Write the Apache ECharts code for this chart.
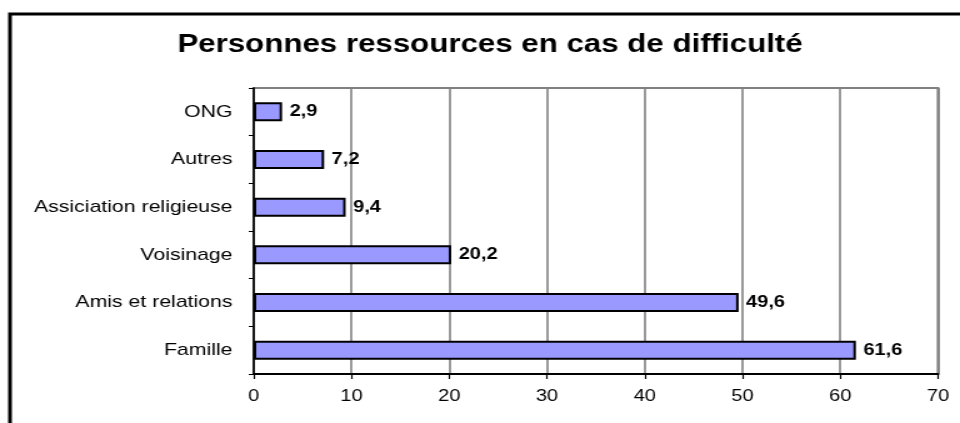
<!DOCTYPE html>
<html>
<head>
<meta charset="utf-8">
<script src="https://cdn.jsdelivr.net/npm/echarts@6/dist/echarts.min.js"></script>
<style>
  html, body { margin: 0; padding: 0; background: #fff; overflow: hidden; }
  /* the reference is a horizontally stretched picture, so draw narrow and stretch */
  #chart { width: 768px; height: 423px; transform: scaleX(1.25); transform-origin: 0 0; }
</style>
</head>
<body>
<div id="chart"></div>
<script>
const categories = ["Famille", "Amis et relations", "Voisinage", "Assiciation religieuse", "Autres", "ONG"];
const values = [61.6, 49.6, 20.2, 9.4, 7.2, 2.9];
const titleText = "Personnes ressources en cas de difficulté";

const chart = echarts.init(document.getElementById("chart"));
const font = "'Liberation Sans', Arial, sans-serif";

chart.setOption({
  animation: false,
  title: {
    text: titleText,
    left: 387,
    textAlign: "center",
    top: 28,
    textStyle: { fontFamily: font, fontSize: 25, fontWeight: "bold", color: "#000" }
  },
  graphic: [
    {
      type: "rect",
      shape: { x: 8, y: 14, width: 900, height: 500 },
      style: { fill: "none", stroke: "#000", lineWidth: 3 },
      z: 100
    }
  ],
  grid: { left: 203, top: 88, right: 17.6, bottom: 49, show: true, borderColor: "#808080", borderWidth: 2 },
  xAxis: {
    type: "value",
    min: 0,
    max: 70,
    interval: 10,
    axisLine: { show: true, lineStyle: { color: "#000", width: 2 } },
    axisTick: { show: true, length: 5, lineStyle: { color: "#000", width: 1.2 } },
    axisLabel: { fontFamily: font, fontSize: 16, color: "#000", margin: 15 },
    splitLine: { show: true, lineStyle: { color: "#808080", width: 1.6 } }
  },
  yAxis: {
    type: "category",
    data: categories,
    axisLine: { show: true, lineStyle: { color: "#000", width: 1.6 } },
    axisTick: { show: true, length: 4, lineStyle: { color: "#000" } },
    axisLabel: { fontFamily: font, fontSize: 17, color: "#000", margin: 17 },
    splitLine: { show: false }
  },
  series: [
    {
      type: "bar",
      data: values,
      barWidth: 19,
      itemStyle: { color: "#9999ff", borderColor: "#000", borderWidth: 2 },
      label: {
        show: true,
        position: "right",
        distance: 6,
        fontFamily: font,
        fontSize: 16,
        fontWeight: "bold",
        color: "#000",
        formatter: (p) => String(p.value).replace(".", ",")
      }
    }
  ]
});
</script>
</body>
</html>
